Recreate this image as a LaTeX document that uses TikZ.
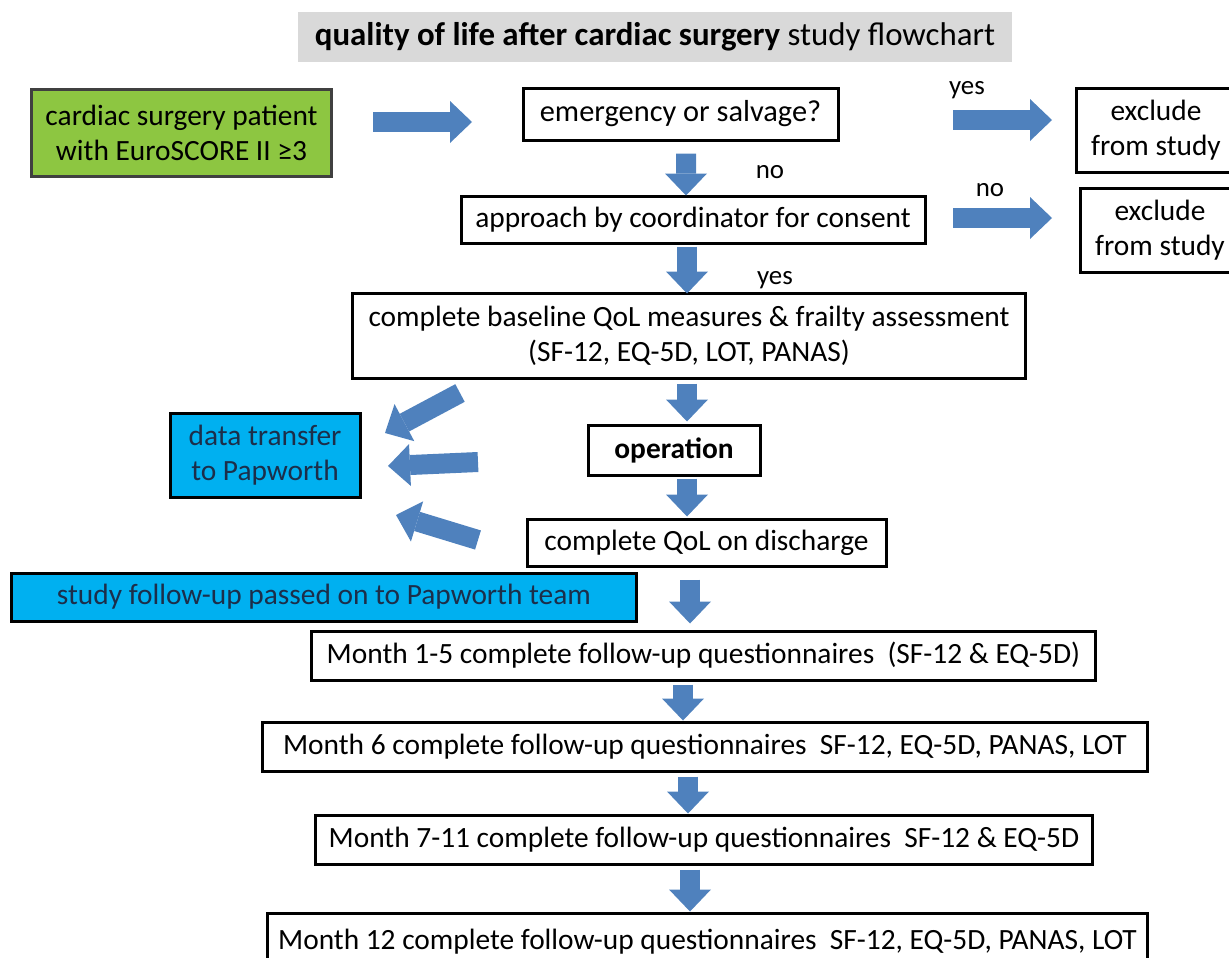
\documentclass[tikz,border=0pt]{standalone}
\usepackage{fontspec}
\setmainfont{Carlito}
\usetikzlibrary{arrows.meta,calc}
\definecolor{greenbox}{HTML}{8DC641}
\definecolor{bluebox}{HTML}{00B0F0}
\definecolor{arrowblue}{HTML}{4F81BD}
\definecolor{titlegray}{HTML}{D9D9D9}
\definecolor{navytext}{HTML}{1C2E4A}
\begin{document}
\begin{tikzpicture}[x=1bp,y=-1bp,
  base/.style={draw=black,line width=3bp,inner sep=0pt,align=center,
    font=\fontsize{29.5}{35}\selectfont},
  lbl/.style={inner sep=0pt,font=\fontsize{27}{30}\selectfont},
  barrow/.style={draw=arrowblue,line width=20bp,
    -{Triangle[length=22bp,width=42bp,line width=0pt]}},
]
\useasboundingbox (0,0) rectangle (1229,958);
% title
\node[fill=titlegray,minimum width=714bp,minimum height=50bp,inner sep=0pt,
  font=\fontsize{33}{38}\selectfont] (title) at (655,37)
  {\textbf{quality of life after cardiac surgery} study flowchart};
% boxes
\node[base,fill=greenbox,draw=black!75,minimum width=299bp,minimum height=87bp] (start) at (181.5,132.5)
  {cardiac surgery patient\\with EuroSCORE II ≥3};
\node[base,minimum width=315bp,minimum height=52bp,font=\fontsize{30.5}{35}\selectfont] (emerg) at (680.5,114) {emergency or salvage?};
\node[base,minimum width=160bp,minimum height=84bp] (excla) at (1156,130) {exclude\\from study};
\node[base,minimum width=160bp,minimum height=84bp] (exclb) at (1160,230) {exclude\\from study};
\node[base,minimum width=464bp,minimum height=47bp] (appr) at (693,219.5) {approach by coordinator for consent};
\node[base,minimum width=672bp,minimum height=85bp] (basel) at (689,335.5)
  {complete baseline QoL measures \& frailty assessment\\(SF-12, EQ-5D, LOT, PANAS)};
\node[base,minimum width=172bp,minimum height=50bp,font=\fontsize{29.5}{35}\selectfont\bfseries] (oper) at (674,450) {operation};
\node[base,minimum width=359bp,minimum height=47bp] (disch) at (706.5,542.5) {complete QoL on discharge};
\node[base,fill=bluebox,text=navytext,minimum width=190bp,minimum height=84bp] (transf) at (265,455)
  {data transfer\\to Papworth};
\node[base,fill=bluebox,text=navytext,minimum width=624bp,minimum height=48bp] (follow) at (324,597)
  {study follow-up passed on to Papworth team};
\node[base,minimum width=783bp,minimum height=49bp] (mA) at (703.5,655.5)
  {Month 1-5 complete follow-up questionnaires~ (SF-12 \& EQ-5D)};
\node[base,minimum width=884bp,minimum height=49bp] (mB) at (705,746.5)
  {Month 6 complete follow-up questionnaires~ SF-12, EQ-5D, PANAS, LOT};
\node[base,minimum width=776bp,minimum height=49bp] (mC) at (704,839.5)
  {Month 7-11 complete follow-up questionnaires~ SF-12 \& EQ-5D};
\node[base,minimum width=879bp,minimum height=57bp] (mD) at (707.5,941.5)
  {Month 12 complete follow-up questionnaires~ SF-12, EQ-5D, PANAS, LOT};
% labels
\node[lbl] (yesa) at (967,90) {yes};
\node[lbl] (noa) at (770,172) {no};
\node[lbl] (nob) at (990,190) {no};
\node[lbl] (yesb) at (775,280) {yes};
% arrow end points
\coordinate (h1s) at (373,122); \coordinate (h1e) at (472,122);
\coordinate (h2s) at (953,120); \coordinate (h2e) at (1052,120);
\coordinate (h3s) at (953,218); \coordinate (h3e) at (1052,218);
\coordinate (g1s) at (460,393); \coordinate (g1e) at (385,433);
\coordinate (g2s) at (478,462); \coordinate (g2e) at (388,466);
\coordinate (g3s) at (478,540); \coordinate (g3e) at (396,515);
\draw[barrow] (h1s) -- (h1e);
\draw[barrow] (h2s) -- (h2e);
\draw[barrow] (h3s) -- (h3e);
\draw[barrow] (g1s) -- (g1e);
\draw[barrow] (g2s) -- (g2e);
\draw[barrow] (g3s) -- (g3e);
% down arrows
\draw[barrow] ($(emerg.south)+(5.5,12)$) -- ($(appr.north)+(-7,1)$);
\draw[barrow] ($(appr.south)+(-6,2)$) -- ($(basel.north)+(-2,2)$);
\draw[barrow] ($(basel.south)+(-2,4)$) -- ($(oper.north)+(13,-2)$);
\draw[barrow] ($(oper.south)+(13,2)$) -- ($(disch.north)+(-19.5,-1)$);
\draw[barrow] ($(disch.south)+(-16.5,12)$) -- ($(mA.north)+(-13.5,-6)$);
\draw[barrow] ($(mA.south)+(-20.5,3)$) -- ($(mB.north)+(-22,0)$);
\draw[barrow] ($(mB.south)+(-17,4)$) -- ($(mC.north)+(-16,0)$);
\draw[barrow] ($(mC.south)+(-14,4)$) -- ($(mD.north)+(-17.5,0)$);
\end{tikzpicture}
\end{document}
